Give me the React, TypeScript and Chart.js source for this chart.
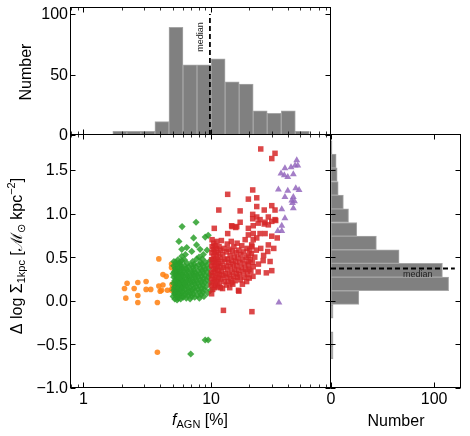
import React, { useEffect, useRef } from 'react';
import { Chart, registerables } from 'chart.js';
Chart.register(...registerables);

const W = 470;
const H = 436;

// ---- axis ranges / ticks ----
const X_MIN = 0.8;
const X_MAX = 87;
const Y_MIN = -1.0;
const Y_MAX = 1.9;
const TOP_Y_MAX = 105;
const RIGHT_X_MAX = 126;

const X_MAJOR = [1, 10];
const X_MAJOR_LABELS = ['1', '10'];
const X_MINOR = [0.8, 0.9, 2, 3, 4, 5, 6, 7, 8, 9, 20, 30, 40, 50, 60, 70, 80];
const Y_MAJOR = [-1.0, -0.5, 0, 0.5, 1.0, 1.5];
const Y_MAJOR_LABELS = ['−1.0', '−0.5', '0.0', '0.5', '1.0', '1.5'];
const TOP_Y_MAJOR = [0, 50, 100];
const TOP_Y_LABELS = ['0', '50', '100'];
const RIGHT_X_MAJOR = [0, 100];
const RIGHT_X_LABELS = ['0', '100'];

// ---- histograms ----
const TOP_EDGES = [1.70, 2.19, 2.82, 3.63, 4.68, 6.03, 7.76, 10.0, 12.9, 16.6, 21.4, 27.5, 35.5, 45.7, 58.9];
const TOP_COUNTS = [3, 3, 3, 11, 89, 58, 58, 63, 44, 42, 20, 18, 20, 3];
const RIGHT_EDGES = [-0.668, -0.511, -0.355, -0.198, -0.042, 0.115, 0.271, 0.428, 0.584, 0.741, 0.897, 1.054, 1.21, 1.367, 1.524, 1.68, 1.837];
const RIGHT_COUNTS = [2, 2, 0, 2, 27, 114, 108, 66, 44, 25, 17, 12, 7, 6, 5, 1];
const MEDIAN_F = 9.8;
const MEDIAN_D = 0.37;

// ---- scatter groups: [f_AGN %, delta log Sigma] ----
const ORANGE: number[][] = [
  [3.9, 0.48], [2.2, 0.2], [2.1, 0.14], [2.5, 0.14], [2.67, 0.21], [3.1, 0.13], [3.37, 0.13], [3.1, 0.22],
  [3.9, 0.17], [4.0, 0.11], [4.2, 0.18], [4.2, 0.3], [4.45, 0.28], [4.55, 0.12], [4.9, 0.12], [4.9, 0.42],
  [4.9, 0.38], [2.15, 0.03], [2.67, 0.06], [2.67, -0.02], [3.8, -0.02], [3.8, -0.59], [4.95, 0.19],
  [4.95, 0.14], [4.1, 0.12],
];

const GREEN: number[][] = [
  [5.93, 0.85], [7.63, 0.9], [5.6, 0.68], [7.3, 0.72], [7.7, 0.64], [9.0, 0.73], [9.5, 0.75], [6.45, 0.61],
  [5.9, 0.59], [8.2, 0.59], [7.06, 0.565], [9.3, 0.58], [8.7, 0.53], [6.3, 0.53], [5.9, 0.51], [6.93, -0.61],
  [9.0, -0.45], [9.5, -0.45],
  [5.05, 0.05], [5.1, 0.12], [5.08, 0.2], [5.12, 0.27], [5.15, 0.33], [5.1, 0.4], [5.2, 0.02], [5.22, 0.09],
  [5.25, 0.16], [5.2, 0.23], [5.28, 0.3], [5.24, 0.37], [5.3, 0.44], [5.35, 0.06], [5.32, 0.13], [5.38, 0.19],
  [5.36, 0.26], [5.4, 0.34], [5.33, 0.41], [5.42, 0.01], [5.45, 0.1], [5.48, 0.17], [5.44, 0.22], [5.5, 0.29],
  [5.46, 0.36], [5.5, 0.47], [5.15, 0.15], [5.3, 0.21], [5.18, 0.08], [5.4, 0.28], [5.27, 0.35], [5.45, 0.05],
  [5.05, 0.31], [5.12, 0.45], [5.38, 0.11],
  [5.55, 0.03], [5.58, 0.09], [5.52, 0.14], [5.6, 0.2], [5.56, 0.25], [5.62, 0.31], [5.58, 0.38], [5.65, 0.43],
  [5.68, 0.06], [5.7, 0.12], [5.66, 0.18], [5.72, 0.24], [5.7, 0.29], [5.75, 0.35], [5.73, 0.41], [5.78, 0.02],
  [5.8, 0.08], [5.82, 0.15], [5.79, 0.21], [5.85, 0.27], [5.83, 0.32], [5.88, 0.39], [5.9, 0.46], [5.92, 0.05],
  [5.95, 0.11], [5.93, 0.17], [5.97, 0.23], [5.98, 0.3], [5.96, 0.36], [5.6, 0.15], [5.75, 0.19], [5.9, 0.25],
  [5.64, 0.27], [5.86, 0.13], [5.7, 0.44],
  [6.05, 0.04], [6.1, 0.1], [6.08, 0.16], [6.12, 0.22], [6.15, 0.28], [6.1, 0.34], [6.2, 0.4], [6.18, 0.47],
  [6.25, 0.07], [6.3, 0.13], [6.28, 0.19], [6.35, 0.25], [6.32, 0.31], [6.38, 0.37], [6.4, 0.03], [6.45, 0.09],
  [6.42, 0.17], [6.5, 0.23], [6.48, 0.29], [6.52, 0.35], [6.5, 0.43], [6.58, 0.06], [6.6, 0.14], [6.63, 0.2],
  [6.65, 0.27], [6.62, 0.33], [6.7, 0.39], [6.75, 0.11], [6.78, 0.24], [6.2, 0.2],
  [6.85, 0.02], [6.9, 0.08], [6.88, 0.15], [6.95, 0.21], [6.92, 0.28], [7.0, 0.34], [6.98, 0.41], [7.05, 0.05],
  [7.1, 0.12], [7.08, 0.18], [7.15, 0.25], [7.12, 0.31], [7.2, 0.38], [7.18, 0.45], [7.25, 0.08], [7.3, 0.14],
  [7.28, 0.22], [7.35, 0.29], [7.32, 0.35], [7.4, 0.42], [7.45, 0.04], [7.5, 0.11], [7.48, 0.19], [7.55, 0.26],
  [7.52, 0.32], [7.6, 0.39], [7.65, 0.16], [7.7, 0.23], [7.72, 0.48], [7.75, 0.3],
  [7.85, 0.06], [7.9, 0.13], [7.88, 0.2], [7.95, 0.27], [7.92, 0.34], [8.0, 0.41], [8.05, 0.5], [8.1, 0.03],
  [8.12, 0.1], [8.15, 0.17], [8.2, 0.24], [8.18, 0.31], [8.25, 0.37], [8.3, 0.44], [8.35, 0.07], [8.4, 0.14],
  [8.38, 0.21], [8.45, 0.28], [8.5, 0.35], [8.48, 0.42], [8.55, 0.48], [8.6, 0.1], [8.65, 0.18], [8.7, 0.25],
  [8.68, 0.32], [8.75, 0.39], [8.8, 0.05], [8.85, 0.13], [8.9, 0.21], [8.95, 0.29], [9.0, 0.36], [9.05, 0.44],
  [9.1, 0.16], [9.2, 0.24], [9.25, 0.33], [9.3, 0.41], [9.4, 0.09], [9.5, 0.27], [9.6, 0.37], [9.7, 0.2],
  [9.8, 0.3], [9.85, 0.46], [9.9, 0.12],
];

const RED: number[][] = [
  [24.5, 1.74], [31.7, 1.69], [29.9, 1.63], [13.5, 1.22], [21.2, 1.27], [19.6, 1.165], [22.8, 1.18], [11.5, 1.04],
  [16.9, 1.03], [21.2, 0.99], [22.8, 1.08], [26.1, 1.04], [29.9, 1.09], [31.7, 1.04], [21.2, 0.94], [22.8, 0.96],
  [24.2, 0.93], [28.1, 0.96], [31.7, 0.93], [16.9, 0.9], [26.5, 0.9], [29.9, 0.91], [10.6, 0.83], [14.5, 0.86],
  [15.6, 0.84], [19.6, 0.83], [21.4, 0.86], [23.4, 0.89], [26.1, 0.88], [28.1, 0.87], [32.1, 0.92], [13.5, 0.77],
  [19.6, 0.755], [21.4, 0.77], [24.2, 0.77], [26.5, 0.77], [29.9, 0.74], [28.1, 0.64], [21.4, 0.7], [22.8, 0.72],
  [20.8, 0.64], [27.8, 0.565], [25.6, 0.46], [23.4, 0.33], [27.1, 0.32], [29.9, 0.345], [19.6, 0.41], [21.4, 0.39],
  [19.8, 0.36], [16.4, 0.12], [14.5, 0.21], [11.8, 0.15], [10.6, 0.15], [10.1, 0.08], [12.5, -0.11], [20.9, -0.125],
  [16.5, 0.11], [15.9, 0.85], [14.6, 0.85],
  [10.05, 0.18], [10.1, 0.25], [10.08, 0.32], [10.12, 0.4], [10.1, 0.47], [10.15, 0.55], [10.2, 0.62], [10.18, 0.7],
  [10.3, 0.13], [10.35, 0.21], [10.32, 0.29], [10.4, 0.36], [10.38, 0.44], [10.45, 0.51], [10.42, 0.59], [10.5, 0.66],
  [10.6, 0.24], [10.65, 0.33], [10.62, 0.41], [10.7, 0.48], [10.68, 0.56], [10.75, 0.63], [10.85, 0.18], [10.9, 0.27],
  [10.88, 0.37], [10.95, 0.45], [11.0, 0.53], [11.05, 0.6], [11.1, 0.68], [11.15, 0.22], [11.2, 0.31], [11.18, 0.39],
  [11.25, 0.47], [11.3, 0.16], [11.35, 0.55], [11.4, 0.26], [11.45, 0.35], [11.5, 0.43], [11.55, 0.62], [11.6, 0.2],
  [11.7, 0.3], [11.75, 0.5], [11.8, 0.4], [11.9, 0.58], [12.0, 0.25], [12.05, 0.69], [12.1, 0.34], [12.2, 0.45],
  [12.3, 0.14], [12.35, 0.53], [12.4, 0.29], [12.5, 0.38], [12.6, 0.6], [12.7, 0.22], [12.8, 0.47],
  [13.0, 0.31], [13.1, 0.4], [13.15, 0.18], [13.2, 0.56], [13.3, 0.27], [13.4, 0.65], [13.45, 0.48], [13.5, 0.36],
  [13.6, 0.22], [13.7, 0.44], [13.8, 0.59], [13.9, 0.3], [14.0, 0.15], [14.1, 0.52], [14.2, 0.39], [14.3, 0.25],
  [14.4, 0.68], [14.5, 0.46], [14.6, 0.33], [14.7, 0.57], [14.8, 0.19], [14.9, 0.42], [15.0, 0.28], [15.1, 0.62],
  [15.2, 0.5], [15.3, 0.36], [15.45, 0.23], [15.6, 0.45], [15.7, 0.55], [15.8, 0.31], [15.9, 0.4], [16.0, 0.66],
  [16.1, 0.27], [16.2, 0.49], [16.4, 0.35], [16.5, 0.58],
  [16.7, 0.3], [16.8, 0.44], [17.0, 0.24], [17.1, 0.53], [17.3, 0.38], [17.4, 0.63], [17.6, 0.19], [17.7, 0.47],
  [17.9, 0.33], [18.0, 0.56], [18.2, 0.27], [18.3, 0.42], [18.5, 0.7], [18.6, 0.36], [18.8, 0.5], [19.0, 0.22],
  [19.1, 0.6], [19.3, 0.3], [19.5, 0.45], [19.7, 0.52], [19.9, 0.26], [20.1, 0.58], [20.3, 0.47], [20.5, 0.34],
  [20.7, 0.54], [20.9, 0.62], [21.1, 0.44], [21.3, 0.28],
  [22.0, 0.5], [22.6, 0.58], [23.5, 0.42], [24.5, 0.6], [25.8, 0.52], [29.0, 0.45], [31.0, 0.6], [33.0, 0.72],
];

const PURPLE: number[][] = [
  [46.9, 1.61], [45.5, 1.55], [47.8, 1.55], [42.3, 1.53], [37.9, 1.52], [35.3, 1.46], [37.5, 1.44], [39.9, 1.42],
  [44.1, 1.45], [33.7, 1.275], [39.9, 1.26], [46.1, 1.29], [48.9, 1.27], [37.9, 1.19], [44.1, 1.19], [42.9, 1.15],
  [45.0, 1.14], [43.4, 1.12], [35.8, 1.05], [44.1, 1.06], [37.9, 0.945], [35.8, 0.86], [33.3, 0.8], [35.8, 0.8],
  [34.0, -0.02],
];

// ---- layout (page pixels) ----
const TOP_AREA = { left: 71, right: 331, top: 8, bottom: 135 };
const MAIN_AREA = { left: 71, right: 331, top: 135, bottom: 388 };
const RIGHT_AREA = { left: 331, right: 461, top: 135, bottom: 388 };

const FONT = '"Liberation Sans", Arial, Helvetica, sans-serif';
const TICK_FONT = `16px ${FONT}`;

type Seg = { t: string; s: number; dy?: number; it?: boolean };

function drawRich(ctx: CanvasRenderingContext2D, segs: Seg[], cx: number, cy: number, rot: number) {
  ctx.save();
  ctx.translate(cx, cy);
  ctx.rotate(rot);
  ctx.textBaseline = 'middle';
  ctx.textAlign = 'left';
  ctx.fillStyle = '#000';
  let total = 0;
  const widths = segs.map((sg) => {
    ctx.font = `${sg.it ? 'italic ' : ''}${sg.s}px ${FONT}`;
    const w = ctx.measureText(sg.t).width;
    total += w;
    return w;
  });
  let x = -total / 2;
  segs.forEach((sg, i) => {
    ctx.font = `${sg.it ? 'italic ' : ''}${sg.s}px ${FONT}`;
    ctx.fillText(sg.t, x, sg.dy || 0);
    x += widths[i];
  });
  ctx.restore();
}

type Decor = {
  xMajor: number[];
  xMinor: number[];
  yMajor: number[];
  xLabels?: string[];
  yLabels?: string[];
  extra?: (chart: any, ctx: CanvasRenderingContext2D) => void;
};

function decorPlugin(d: Decor) {
  return {
    id: 'decor',
    afterDraw(chart: any) {
      const ctx: CanvasRenderingContext2D = chart.ctx;
      const xs = chart.scales.x;
      const ys = chart.scales.y;
      const { left, right, top, bottom } = chart.chartArea;
      // all spines on the same pixel grid so that shared edges coincide
      const L = Math.round(left) - 0.5;
      const R = Math.round(right) - 0.5;
      const T = Math.round(top) - 0.5;
      const B = Math.round(bottom) - 0.5;
      ctx.save();
      if (d.extra) d.extra(chart, ctx);
      ctx.strokeStyle = '#000';
      ctx.setLineDash([]);
      const tick = (x1: number, y1: number, x2: number, y2: number, w: number) => {
        ctx.lineWidth = w;
        ctx.beginPath();
        ctx.moveTo(x1, y1);
        ctx.lineTo(x2, y2);
        ctx.stroke();
      };
      d.xMajor.forEach((v) => {
        const p = Math.round(xs.getPixelForValue(v)) + 0.5;
        tick(p, B, p, B - 5, 1);
        tick(p, T, p, T + 5, 1);
      });
      d.xMinor.forEach((v) => {
        const p = Math.round(xs.getPixelForValue(v)) + 0.5;
        tick(p, B, p, B - 3, 0.8);
        tick(p, T, p, T + 3, 0.8);
      });
      d.yMajor.forEach((v) => {
        const p = Math.round(ys.getPixelForValue(v)) + 0.5;
        tick(L, p, L + 5, p, 1);
        tick(R, p, R - 5, p, 1);
      });
      ctx.lineWidth = 1;
      ctx.strokeRect(L, T, R - L, B - T);
      ctx.fillStyle = '#000';
      ctx.font = TICK_FONT;
      if (d.xLabels) {
        ctx.textAlign = 'center';
        ctx.textBaseline = 'top';
        d.xMajor.forEach((v, i) => {
          ctx.fillText(d.xLabels![i], xs.getPixelForValue(v), bottom + 4);
        });
      }
      if (d.yLabels) {
        ctx.textAlign = 'right';
        ctx.textBaseline = 'middle';
        d.yMajor.forEach((v, i) => {
          ctx.fillText(d.yLabels![i], left - 3, ys.getPixelForValue(v) + 1);
        });
      }
      ctx.restore();
    },
  };
}

function pad(a: { left: number; right: number; top: number; bottom: number }) {
  return { left: a.left, right: W - a.right, top: a.top, bottom: H - a.bottom };
}

const baseOpts = {
  responsive: false,
  animation: false as const,
  events: [] as any[],
  plugins: { legend: { display: false }, tooltip: { enabled: false } },
};

function topConfig(): any {
  const data = TOP_COUNTS.map((c, i) => ({ x: Math.sqrt(TOP_EDGES[i] * TOP_EDGES[i + 1]), y: c }));
  return {
    type: 'bar',
    data: {
      datasets: [
        {
          data,
          backgroundColor: '#808080',
          borderColor: '#a6a6a6',
          borderWidth: 1,
          borderSkipped: false,
          barPercentage: 1,
          categoryPercentage: 1,
        },
      ],
    },
    options: {
      ...baseOpts,
      layout: { padding: pad(TOP_AREA) },
      scales: {
        x: { type: 'logarithmic', min: X_MIN, max: X_MAX, display: false, offset: false },
        y: { type: 'linear', min: 0, max: TOP_Y_MAX, display: false },
      },
    },
    plugins: [
      decorPlugin({
        xMajor: X_MAJOR,
        xMinor: X_MINOR,
        yMajor: TOP_Y_MAJOR,
        yLabels: TOP_Y_LABELS,
        extra: (chart, ctx) => {
          const xs = chart.scales.x;
          const ys = chart.scales.y;
          const px = xs.getPixelForValue(MEDIAN_F);
          ctx.strokeStyle = '#000';
          ctx.lineWidth = 1.8;
          ctx.setLineDash([5, 3]);
          ctx.beginPath();
          ctx.moveTo(px, ys.getPixelForValue(0));
          ctx.lineTo(px, ys.getPixelForValue(100));
          ctx.stroke();
          ctx.setLineDash([]);
          ctx.save();
          ctx.translate(px - 9, ys.getPixelForValue(81));
          ctx.rotate(-Math.PI / 2);
          ctx.font = `9px ${FONT}`;
          ctx.fillStyle = '#222';
          ctx.textAlign = 'center';
          ctx.textBaseline = 'middle';
          ctx.fillText('median', 0, 0);
          ctx.restore();
          drawRich(ctx, [{ t: 'Number', s: 16 }], 27, 72, -Math.PI / 2);
        },
      }),
    ],
  };
}

function mainConfig(): any {
  const toPts = (arr: number[][]) => arr.map((p) => ({ x: p[0], y: p[1] }));
  return {
    type: 'scatter',
    data: {
      datasets: [
        { data: toPts(PURPLE), pointStyle: 'triangle', pointRadius: 4, backgroundColor: 'rgba(148,103,189,0.85)', borderWidth: 0, order: 1 },
        { data: toPts(RED), pointStyle: 'rect', pointRadius: 3.9, backgroundColor: 'rgba(214,39,40,0.85)', borderWidth: 0, order: 2 },
        { data: toPts(GREEN), pointStyle: 'rectRot', pointRadius: 3.6, backgroundColor: 'rgba(44,160,44,0.85)', borderWidth: 0, order: 3 },
        { data: toPts(ORANGE), pointStyle: 'circle', pointRadius: 2.8, backgroundColor: 'rgba(255,127,14,0.85)', borderWidth: 0, order: 4 },
      ],
    },
    options: {
      ...baseOpts,
      layout: { padding: pad(MAIN_AREA) },
      scales: {
        x: { type: 'logarithmic', min: X_MIN, max: X_MAX, display: false },
        y: { type: 'linear', min: Y_MIN, max: Y_MAX, display: false },
      },
    },
    plugins: [
      decorPlugin({
        xMajor: X_MAJOR,
        xMinor: X_MINOR,
        yMajor: Y_MAJOR,
        xLabels: X_MAJOR_LABELS,
        yLabels: Y_MAJOR_LABELS,
        extra: (chart, ctx) => {
          drawRich(
            ctx,
            [
              { t: 'Δ log Σ', s: 16 },
              { t: '1kpc', s: 11, dy: 4 },
              { t: ' [', s: 16 },
              { t: 'ℳ', s: 16 },
              { t: '⊙', s: 11, dy: 4 },
              { t: ' kpc', s: 16 },
              { t: '−2', s: 11, dy: -6 },
              { t: ']', s: 16 },
            ],
            18,
            256,
            -Math.PI / 2
          );
          drawRich(
            ctx,
            [
              { t: 'f', s: 16, it: true },
              { t: 'AGN', s: 11, dy: 4 },
              { t: ' [%]', s: 16 },
            ],
            200,
            421,
            0
          );
        },
      }),
    ],
  };
}

function rightConfig(): any {
  const data = RIGHT_COUNTS.map((c, i) => ({ x: c, y: (RIGHT_EDGES[i] + RIGHT_EDGES[i + 1]) / 2 })).filter((p) => p.x > 0);
  return {
    type: 'bar',
    data: {
      datasets: [
        {
          data,
          backgroundColor: '#808080',
          borderColor: '#a6a6a6',
          borderWidth: 1,
          borderSkipped: false,
          barPercentage: 1,
          categoryPercentage: 1,
        },
      ],
    },
    options: {
      ...baseOpts,
      indexAxis: 'y',
      layout: { padding: pad(RIGHT_AREA) },
      scales: {
        y: { type: 'linear', min: Y_MIN, max: Y_MAX, display: false, offset: false },
        x: { type: 'linear', min: 0, max: RIGHT_X_MAX, display: false },
      },
    },
    plugins: [
      decorPlugin({
        xMajor: RIGHT_X_MAJOR,
        xMinor: [],
        yMajor: Y_MAJOR,
        xLabels: RIGHT_X_LABELS,
        extra: (chart, ctx) => {
          const xs = chart.scales.x;
          const ys = chart.scales.y;
          const py = ys.getPixelForValue(MEDIAN_D);
          ctx.strokeStyle = '#000';
          ctx.lineWidth = 1.8;
          ctx.setLineDash([5, 3]);
          ctx.beginPath();
          ctx.moveTo(xs.getPixelForValue(0), py);
          ctx.lineTo(xs.getPixelForValue(120), py);
          ctx.stroke();
          ctx.setLineDash([]);
          ctx.font = `9px ${FONT}`;
          ctx.fillStyle = '#222';
          ctx.textAlign = 'center';
          ctx.textBaseline = 'middle';
          ctx.fillText('median', xs.getPixelForValue(84), ys.getPixelForValue(0.3));
          drawRich(ctx, [{ t: 'Number', s: 16 }], 396, 422, 0);
        },
      }),
    ],
  };
}

export default function App() {
  const topRef = useRef<HTMLCanvasElement>(null);
  const mainRef = useRef<HTMLCanvasElement>(null);
  const rightRef = useRef<HTMLCanvasElement>(null);

  useEffect(() => {
    const charts = [
      new Chart(topRef.current as HTMLCanvasElement, topConfig()),
      new Chart(mainRef.current as HTMLCanvasElement, mainConfig()),
      new Chart(rightRef.current as HTMLCanvasElement, rightConfig()),
    ];
    return () => charts.forEach((c) => c.destroy());
  }, []);

  const cs: React.CSSProperties = { position: 'absolute', left: 0, top: 0, width: W, height: H };
  return (
    <div style={{ position: 'fixed', left: 0, top: 0, width: W, height: H, background: '#fff' }}>
      <canvas ref={topRef} width={W} height={H} style={cs} />
      <canvas ref={mainRef} width={W} height={H} style={cs} />
      <canvas ref={rightRef} width={W} height={H} style={cs} />
    </div>
  );
}
